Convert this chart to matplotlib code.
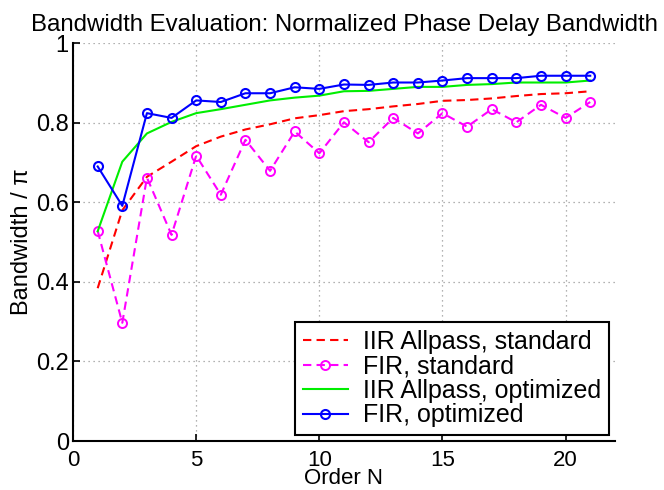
import matplotlib
matplotlib.use('Agg')
import matplotlib.pyplot as plt

plt.rcParams['font.family'] = ['Liberation Sans', 'DejaVu Sans']
plt.rcParams['font.size'] = 16

orders = list(range(1, 22))

iir_standard = [0.384, 0.580, 0.664, 0.702, 0.741, 0.765, 0.783, 0.796, 0.811, 0.819, 0.829,
                0.834, 0.841, 0.847, 0.855, 0.857, 0.861, 0.867, 0.872, 0.874, 0.879]
fir_standard = [0.528, 0.297, 0.662, 0.518, 0.717, 0.619, 0.757, 0.679, 0.778, 0.723, 0.801,
                0.751, 0.812, 0.773, 0.824, 0.790, 0.834, 0.801, 0.845, 0.812, 0.852]
iir_optimized = [0.527, 0.702, 0.773, 0.802, 0.824, 0.834, 0.845, 0.856, 0.863, 0.868, 0.879,
                 0.880, 0.885, 0.890, 0.890, 0.895, 0.897, 0.901, 0.901, 0.901, 0.906]
fir_optimized = [0.690, 0.591, 0.824, 0.812, 0.856, 0.852, 0.874, 0.874, 0.889, 0.885, 0.896,
                 0.895, 0.901, 0.901, 0.906, 0.912, 0.912, 0.912, 0.918, 0.918, 0.918]

x_ticks = [0, 5, 10, 15, 20]
y_ticks = [0, 0.2, 0.4, 0.6, 0.8, 1]
y_tick_labels = ['0', '0.2', '0.4', '0.6', '0.8', '1']

fig = plt.figure(figsize=(6.64, 4.90), dpi=100)
ax = fig.add_axes([0.110, 0.100, 0.816, 0.812])

dash = (0, (4, 2.5))
ax.plot(orders, iir_standard, linestyle=dash, color='#ff0000', lw=1.5,
        label='IIR Allpass, standard')
ax.plot(orders, fir_standard, linestyle=dash, color='#ff00ff', lw=1.5,
        marker='o', markersize=6.5, markerfacecolor='none', markeredgewidth=1.4,
        label='FIR, standard')
ax.plot(orders, iir_optimized, linestyle='-', color='#00ee00', lw=1.5,
        label='IIR Allpass, optimized')
ax.plot(orders, fir_optimized, linestyle='-', color='#0000ff', lw=1.5,
        marker='o', markersize=6.5, markerfacecolor='none', markeredgewidth=1.5,
        label='FIR, optimized')

ax.set_xlim(0, 22)
ax.set_ylim(0, 1)
ax.set_xticks(x_ticks)
ax.set_yticks(y_ticks)
ax.set_yticklabels(y_tick_labels, fontsize=17)
ax.tick_params(direction='in', length=5, width=1.2, pad=3)
ax.tick_params(axis='x', pad=6.5)
ax.grid(True, linestyle=(0, (1, 3)), color='#999999', linewidth=0.9)

for side in ['top', 'right']:
    ax.spines[side].set_visible(False)
for side in ['left', 'bottom']:
    ax.spines[side].set_linewidth(1.5)

ax.set_title('Bandwidth Evaluation: Normalized Phase Delay Bandwidth', fontsize=17.3, pad=9)
ax.set_xlabel('Order N', labelpad=-2)
ax.set_ylabel('Bandwidth / π', fontsize=17, labelpad=2)

leg = ax.legend(loc='lower right', fancybox=False, edgecolor='black', framealpha=1,
                handlelength=1.8, borderpad=0.3, labelspacing=0.02, handletextpad=0.6,
                borderaxespad=0.25, fontsize=18)
leg.get_frame().set_linewidth(1.5)

fig.savefig('out.png', dpi=100)
